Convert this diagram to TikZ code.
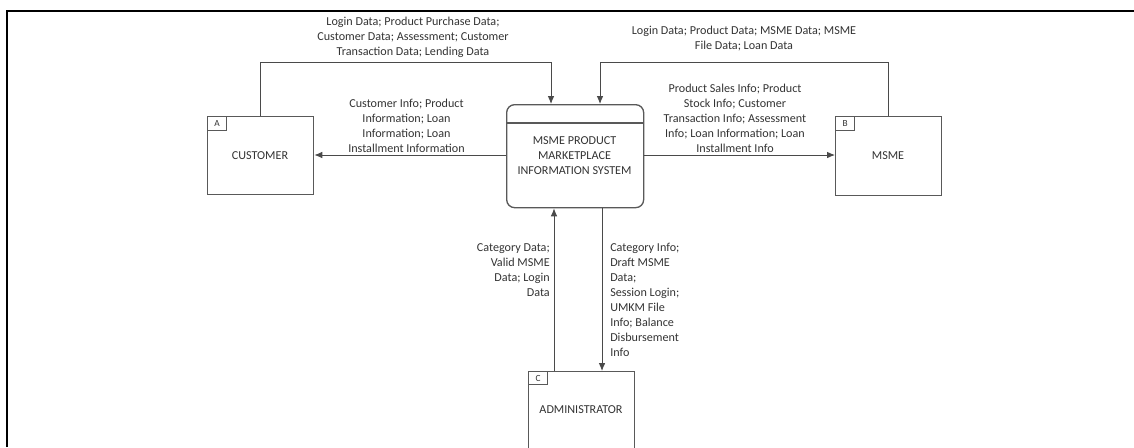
\documentclass[tikz,border=0pt]{standalone}
\usepackage{fontspec}
\setmainfont{Carlito}
\usetikzlibrary{arrows.meta}
\definecolor{edgegray}{HTML}{595959}
\definecolor{flowgray}{HTML}{4A4A4A}
\definecolor{txtgray}{HTML}{333333}
\begin{document}
\begin{tikzpicture}[x=0.75pt,y=-0.75pt,
  every node/.style={text=txtgray,font=\fontsize{9.1}{11.2}\selectfont},
  entity/.style={draw=edgegray,line width=1pt,fill=white,inner sep=0pt},
  tag/.style={draw=edgegray,line width=0.8pt,inner sep=0pt,font=\fontsize{7}{8}\selectfont},
  flow/.style={draw=flowgray,line width=0.7pt,-{Latex[length=6pt,width=5pt]}},
  lbl/.style={align=center,inner sep=0pt},
  lblr/.style={align=right,inner sep=0pt,anchor=east},
  lbll/.style={align=left,inner sep=0pt,anchor=west}]
\useasboundingbox (0,0) rectangle (1134,447);
% page frame fragments
\draw[line width=2.2pt,black] (7,447) -- (7,11) -- (206,11);
\draw[line width=0.8pt,black] (206,11) -- (942,11);
\draw[line width=2.2pt,black] (942,11) -- (1134,11);

% external entities
\node[entity,minimum width=79.5pt,minimum height=58.5pt,anchor=north west] (cust) at (207,116) {};
\node[tag,minimum width=14.25pt,minimum height=10.5pt,anchor=north west] (tagA) at (cust.north west) {A};
\node at (260,156) (custtxt) {CUSTOMER};

\node[entity,minimum width=79.5pt,minimum height=59.25pt,anchor=north west] (msme) at (835,116) {};
\node[tag,minimum width=14.25pt,minimum height=10.5pt,anchor=north west] (tagB) at (msme.north west) {B};
\node at (888,156) (msmetxt) {MSME};

\node[entity,minimum width=79.5pt,minimum height=67.5pt,anchor=north west] (adm) at (528,371) {};
\node[tag,minimum width=14.25pt,minimum height=9.75pt,anchor=north west] (tagC) at (adm.north west) {C};
\node at (581,410) (admtxt) {ADMINISTRATOR};

% process
\node[entity,rounded corners=6pt,minimum width=102.75pt,minimum height=77.25pt,anchor=north west] (proc) at (506,104) {};
\draw[edgegray,line width=1pt] (506,123) -- (643,123);
\node[lbl] (proctxt) at (574.5,156) {MSME PRODUCT\\MARKETPLACE\\INFORMATION SYSTEM};

% data flows
\coordinate (c1) at (260,62);
\coordinate (c2) at (551,62);
\draw[flow] (cust.north -| c1) -- (c1) -- (c2) -- (c2 |- proc.north);
\coordinate (m1) at (888,62);
\coordinate (m2) at (600,62);
\draw[flow] (msme.north -| m1) -- (m1) -- (m2) -- (m2 |- proc.north);
\draw[flow] (proc.west |- 0,155) -- (cust.east |- 0,155);
\draw[flow] (proc.east |- 0,155) -- (msme.west |- 0,155);
\coordinate (a1) at (554,0);
\coordinate (a2) at (602,0);
\draw[flow] (adm.north -| a1) -- (proc.south -| a1);
\draw[flow] (proc.south -| a2) -- (adm.north -| a2);

% flow labels
\node[lbl] (l1) at (413,37.5) {Login Data; Product Purchase Data;\\Customer Data; Assessment; Customer\\Transaction Data; Lending Data};
\node[lbl] (l2) at (744,39) {Login Data; Product Data; MSME Data; MSME\\File Data; Loan Data};
\node[lbl] (l3) at (406.5,125.5) {Customer Info; Product\\Information; Loan\\Information; Loan\\Installment Information};
\node[lbl] (l4) at (735,118) {Product Sales Info; Product\\Stock Info; Customer\\Transaction Info; Assessment\\Info; Loan Information; Loan\\Installment Info};
\node[lblr] (l5) at (550,270) {Category Data;\\Valid MSME\\Data; Login\\Data};
\node[lbll] (l6) at (610,300) {Category Info;\\Draft MSME\\Data;\\Session Login;\\UMKM File\\Info; Balance\\Disbursement\\Info};
\end{tikzpicture}
\end{document}
